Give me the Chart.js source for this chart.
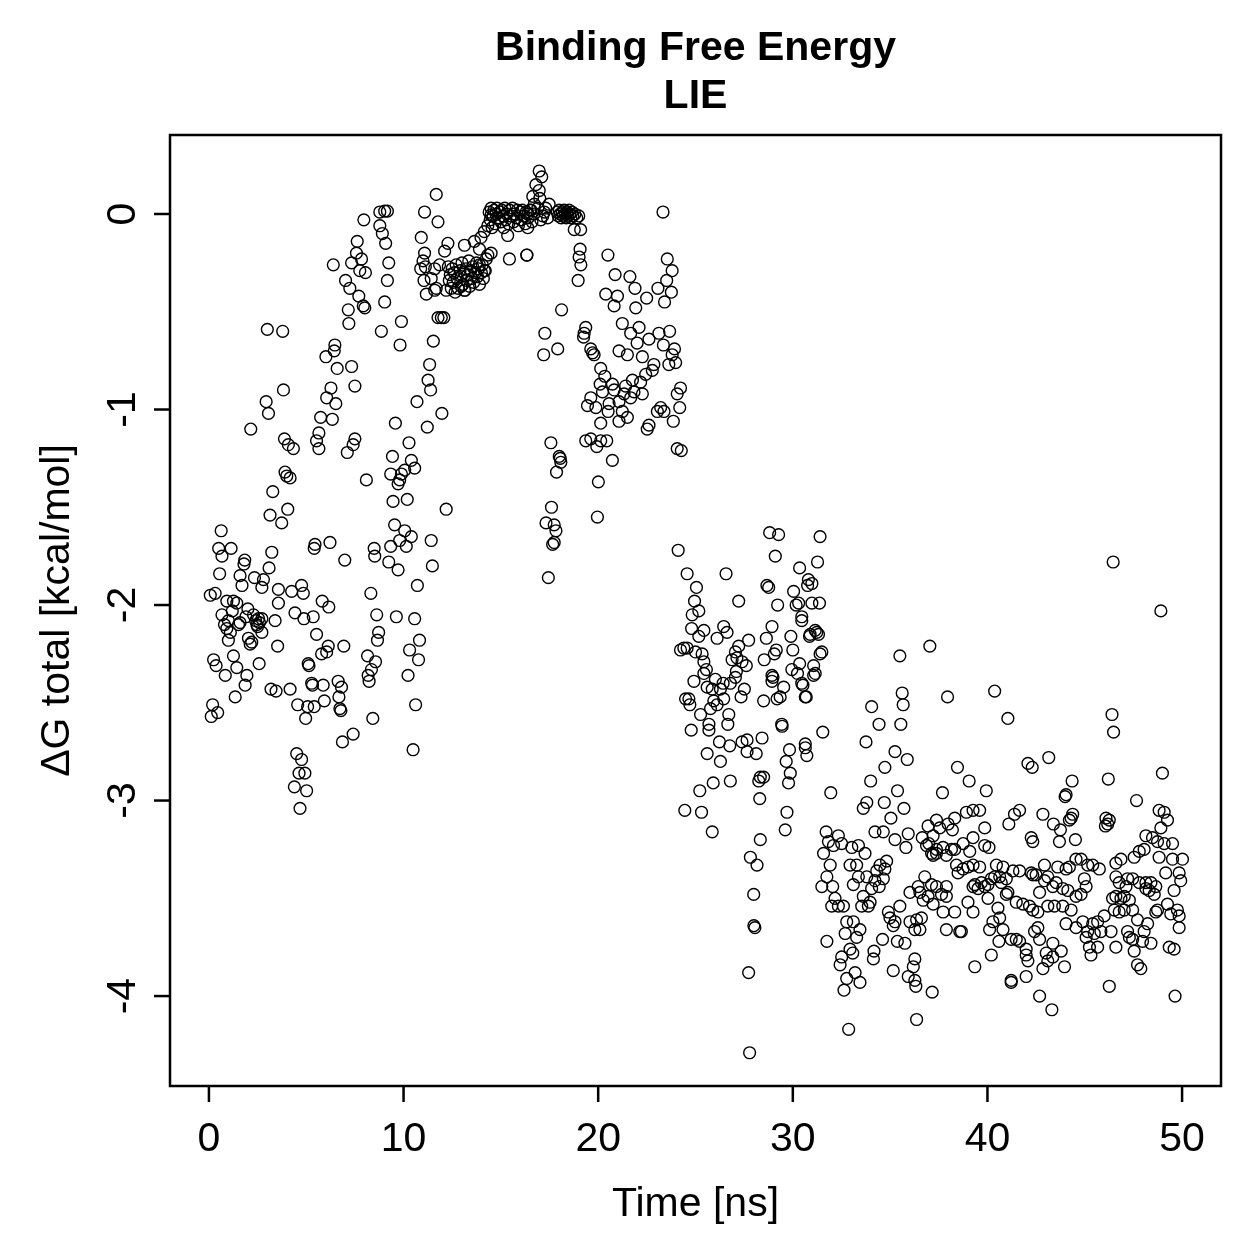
<!DOCTYPE html>
<html>
<head>
<meta charset="utf-8">
<title>Binding Free Energy - LIE</title>
<script src="https://cdn.jsdelivr.net/npm/chart.js@4.4.1/dist/chart.umd.min.js"></script>
<style>
  html, body { margin: 0; padding: 0; background: #fff; }
  #wrap { width: 1259px; height: 1259px; }
</style>
</head>
<body>
<div id="wrap"><canvas id="lieChart" width="1259" height="1259"></canvas></div>
<script>
// tick labels
const xTicks = [0, 10, 20, 30, 40, 50];
const yTicks = [0, -1, -2, -3, -4];

// [time ns, dG kcal/mol], grouped by time window
const seg0to6 = [
  [0.63,-1.62],[0.50,-1.71],[1.14,-1.71],[0.67,-1.75],[0.55,-1.84],[1.84,-1.77],[1.80,-1.79],[3.23,-1.73],
  [3.09,-1.81],[1.60,-1.85],[1.70,-1.90],[2.34,-1.86],[2.80,-1.87],[2.72,-1.91],[0.07,-1.95],[0.32,-1.94],
  [0.92,-1.98],[1.26,-1.98],[1.43,-1.99],[0.67,-2.05],[1.00,-2.08],[1.60,-2.09],[2.29,-2.05],[2.55,-2.07],
  [2.72,-2.07],[2.46,-2.10],[0.92,-2.12],[1.52,-2.10],[2.03,-2.17],[2.20,-2.19],[2.72,-2.14],[3.57,-1.92],
  [3.57,-1.99],[3.40,-2.08],[4.25,-1.93],[4.76,-1.90],[4.85,-1.94],[1.00,-2.18],[2.12,-2.20],[3.53,-2.21],
  [1.26,-2.26],[0.24,-2.28],[0.37,-2.31],[1.43,-2.32],[0.84,-2.36],[1.95,-2.36],[1.86,-2.41],[2.58,-2.30],
  [1.35,-2.47],[0.19,-2.51],[0.12,-2.57],[0.45,-2.55],[4.42,-2.04],[4.88,-2.07],[5.36,-2.06],[5.82,-1.98],
  [6.16,-2.01],[5.53,-2.15],[5.10,-2.30],[5.14,-2.31],[5.79,-2.25],[6.05,-2.24],[6.13,-2.21],[5.28,-2.40],
  [5.32,-2.41],[5.87,-2.41],[3.19,-2.43],[3.45,-2.44],[4.17,-2.43],[4.56,-2.51],[5.07,-2.52],[5.41,-2.52],
  [4.97,-2.58],[5.93,-2.49],[4.51,-2.76],[4.76,-2.79],[4.63,-2.86],[4.93,-2.86],[4.39,-2.93],[5.02,-2.95],
  [4.68,-3.04],[2.40,-2.08],[2.50,-2.11],[2.60,-2.09],[1.90,-2.06],[1.20,-2.03],[1.10,-2.14],[0.80,-2.10],
  [2.00,-2.02],[3.91,-1.32],[4.00,-1.34],[4.17,-1.35],[3.28,-1.42],[4.05,-1.51],[3.14,-1.54],[3.74,-1.58],
  [5.45,-1.69],[5.41,-1.71],[6.22,-1.68],[4.08,-1.18],[4.34,-1.20],[3.88,-1.15],[5.65,-1.12],[5.53,-1.16],
  [5.65,-1.20],[3.00,-0.59],[3.79,-0.60],[3.83,-0.90],[2.94,-0.96],[3.06,-1.02],[2.15,-1.10],[6.01,-0.73],
  [5.74,-1.04],[6.27,-0.89],[6.05,-0.94],[6.34,-1.05],[6.39,-0.26],[6.47,-0.67],[6.44,-0.70],[6.59,-0.79],
  [6.52,-0.97]
];

const seg6to12 = [
  [6.64,-2.39],[6.81,-2.42],[6.68,-2.47],[6.73,-2.53],[6.78,-2.54],[6.93,-2.21],[7.41,-2.66],[6.86,-2.70],
  [6.98,-1.77],[7.50,-1.15],[7.41,-1.18],[7.11,-1.22],[8.09,-1.36],[9.43,-1.24],[10.40,-1.26],[10.57,-1.30],
  [10.06,-1.31],[9.89,-1.33],[9.80,-1.36],[9.72,-1.38],[9.34,-1.33],[9.46,-1.47],[10.19,-1.46],[10.28,-1.17],
  [12.19,-1.51],[9.54,-1.59],[10.06,-1.62],[10.40,-1.65],[9.80,-1.67],[10.14,-1.70],[9.34,-1.70],[11.42,-1.67],
  [11.48,-1.80],[8.49,-1.71],[8.52,-1.75],[9.24,-1.78],[9.72,-1.82],[10.71,-1.90],[8.32,-1.94],[8.62,-2.05],
  [9.63,-2.06],[10.57,-2.07],[8.72,-2.14],[8.66,-2.18],[10.82,-2.18],[10.31,-2.23],[10.77,-2.28],[8.15,-2.26],
  [8.56,-2.29],[8.35,-2.33],[8.18,-2.36],[8.23,-2.39],[10.23,-2.36],[10.62,-2.51],[8.42,-2.58],[10.49,-2.74],
  [7.62,-0.14],[7.58,-0.20],[7.84,-0.23],[7.33,-0.25],[7.75,-0.29],[8.04,-0.30],[9.24,-0.25],[9.17,-0.34],
  [9.03,-0.45],[7.02,-0.34],[7.24,-0.38],[7.70,-0.42],[7.93,-0.47],[8.01,-0.48],[7.16,-0.49],[7.19,-0.56],
  [7.96,-0.03],[9.03,0.015],[8.78,0.01],[9.17,0.015],[11.08,0.01],[11.77,-0.04],[8.78,-0.06],[8.91,-0.10],
  [9.08,-0.15],[10.91,-0.12],[11.08,-0.20],[11.00,-0.24],[10.88,-0.28],[11.12,-0.27],[11.05,-0.34],[11.17,-0.41],
  [11.60,-0.39],[9.89,-0.55],[8.86,-0.60],[9.82,-0.67],[11.77,-0.53],[11.94,-0.53],[12.07,-0.53],[11.53,-0.65],
  [7.33,-0.78],[7.50,-0.88],[11.34,-0.77],[11.26,-0.85],[11.39,-0.90],[10.69,-0.96],[11.97,-1.02],[11.22,-1.09],
  [9.58,-1.07],[11.68,0.10],[12.28,-0.15],[12.11,-0.19],[11.85,-0.26],[11.60,-0.28],[11.42,-0.33],[11.68,-0.38],
  [12.19,-0.39]
];

const seg12to19 = [
  [12.30,-0.27],[12.40,-0.31],[12.50,-0.28],[12.55,-0.35],[12.60,-0.30],[12.70,-0.26],[12.75,-0.33],[12.80,-0.38],
  [12.90,-0.29],[12.95,-0.32],[13.00,-0.25],[13.05,-0.36],[13.10,-0.30],[13.20,-0.28],[13.25,-0.34],[13.30,-0.31],
  [13.35,-0.24],[13.40,-0.37],[13.45,-0.29],[13.50,-0.33],[13.55,-0.27],[13.60,-0.35],[13.70,-0.30],[13.75,-0.25],
  [13.80,-0.32],[13.85,-0.28],[13.90,-0.36],[14.00,-0.30],[14.05,-0.26],[14.10,-0.33],[14.20,-0.29],[14.25,-0.23],
  [12.45,-0.38],[12.65,-0.40],[13.15,-0.39],[12.35,-0.34],[12.96,-0.37],[13.13,-0.39],
  [13.13,-0.16],[13.64,-0.14],[13.98,-0.12],[14.15,-0.09],[14.33,-0.06],[14.50,-0.005],[13.90,-0.18],[14.33,-0.21],
  [14.50,-0.20],[13.90,-0.26],[14.15,-0.29],[15.44,-0.23],[16.34,-0.21],[15.35,-0.11],[16.38,-0.07],
  [14.40,0.01],[14.45,-0.03],[14.50,0.03],[14.60,-0.01],[14.65,0.02],[14.70,-0.05],[14.75,0.00],[14.80,0.03],
  [14.90,-0.02],[14.95,0.01],[15.00,-0.04],[15.05,0.02],[15.10,-0.01],[15.20,0.03],[15.25,-0.03],[15.30,0.00],
  [15.40,-0.05],[15.45,0.02],[15.50,-0.01],[15.60,0.03],[15.65,-0.04],[15.70,0.00],[15.80,-0.02],[15.85,0.02],
  [15.90,-0.06],[16.00,0.01],[16.05,-0.03],[16.10,0.02],[16.20,-0.01],[16.25,-0.05],[16.30,0.01],[16.40,-0.02],
  [16.50,0.02],[16.60,-0.04],[16.70,0.00],[14.55,-0.07],[15.15,-0.07],
  [16.97,0.22],[17.10,0.19],[16.80,0.15],[16.97,0.12],[16.64,0.09],[16.72,0.05],[16.55,0.02],[16.38,0.00],
  [17.48,0.05],[17.23,0.01],[17.15,-0.01],[17.00,0.08],[17.30,0.03],[16.90,0.03],[17.05,-0.03],[17.40,-0.02],
  [17.90,0.01],[17.95,-0.01],[18.00,0.02],[18.05,0.00],[18.10,-0.02],[18.15,0.01],[18.20,-0.01],[18.25,0.02],
  [18.30,0.00],[18.35,-0.02],[18.40,0.01],[18.45,-0.01],[18.50,0.02],[18.55,0.00],[18.60,-0.02],[18.65,0.01],
  [18.70,-0.01],[18.80,0.00],[18.90,-0.02],[19.00,-0.01],
  [16.33,-0.21],[19.07,-0.18],[19.02,-0.22],[19.11,-0.26],[18.97,-0.34],[18.77,-0.08],[19.10,-0.08],[18.12,-0.49],
  [17.26,-0.61],[17.92,-0.69],[17.20,-0.72],[17.57,-1.17],[18.00,-1.24],[18.08,-1.27],[18.05,-1.25],[17.86,-1.32],
  [17.60,-1.50],[17.32,-1.58],[17.74,-1.59],[17.83,-1.62],[17.74,-1.68],[17.66,-1.69],[17.44,-1.86]
];

const seg19to25 = [
  [19.36,-0.58],[19.28,-0.61],[19.25,-0.63],[19.62,-0.69],[19.71,-0.71],[19.79,-0.72],[20.50,-0.21],[23.33,0.01],
  [23.55,-0.23],[23.80,-0.29],[23.52,-0.34],[23.07,-0.38],[23.76,-0.40],[23.41,-0.45],[20.87,-0.31],[21.63,-0.32],
  [21.89,-0.38],[22.49,-0.43],[21.93,-0.48],[20.39,-0.41],[20.99,-0.42],[20.82,-0.47],
  [21.24,-0.56],[21.67,-0.61],[22.10,-0.58],[23.12,-0.61],[23.67,-0.60],[22.61,-0.64],[23.35,-0.67],[23.92,-0.69],
  [22.00,-0.66],[21.07,-0.70],[21.50,-0.72],[22.27,-0.73],[23.80,-0.72],[23.98,-0.76],[22.86,-0.77],[23.63,-0.77],
  [20.13,-0.79],[20.34,-0.83],[20.10,-0.87],[20.73,-0.87],[20.22,-0.91],[19.62,-0.94],[19.45,-0.98],[19.88,-0.99],
  [20.56,-0.97],[20.51,-1.01],[20.82,-0.90],[21.33,-0.92],[21.07,-0.96],[21.67,-0.94],[21.84,-0.91],[22.27,-0.92],
  [22.18,-0.86],[21.76,-0.85],[22.44,-0.82],[22.78,-0.80],[21.41,-0.88],[20.13,-1.07],[21.07,-1.06],[21.50,-1.04],
  [21.24,-1.01],[24.23,-0.89],[24.06,-0.92],[24.19,-0.99],[23.21,-0.99],[23.38,-1.01],[23.04,-1.01],[23.86,-1.06],
  [22.61,-1.08],[22.52,-1.10],[19.36,-1.16],[19.62,-1.15],[19.93,-1.19],[20.13,-1.16],[20.44,-1.16],[20.73,-1.26],
  [24.06,-1.20],[24.27,-1.21],[20.01,-1.37],[19.96,-1.55]
];

const seg24to32 = [
  [24.11,-1.72],[24.57,-1.84],[26.57,-1.84],[28.81,-1.63],[29.27,-1.64],[31.40,-1.65],[29.10,-1.75],[31.27,-1.78],
  [30.35,-1.81],[28.67,-1.90],[28.76,-1.91],[25.05,-1.91],[24.95,-1.98],[25.17,-2.03],[24.83,-2.05],[24.80,-2.12],
  [25.43,-2.13],[25.17,-2.16],[27.22,-1.98],[29.22,-2.00],[30.04,-1.93],[30.30,-1.99],[30.17,-2.00],[30.80,-1.87],
  [30.76,-1.90],[30.98,-1.89],[30.98,-1.99],[31.37,-1.99],[30.46,-2.06],[30.46,-2.08],[31.15,-2.13],[31.32,-2.15],
  [30.86,-2.16],[29.90,-2.16],[30.00,-2.23],[28.93,-2.11],[28.64,-2.17],[29.15,-2.23],[29.05,-2.25],[28.53,-2.28],
  [26.45,-2.11],[26.62,-2.14],[26.11,-2.17],[27.73,-2.18],[27.22,-2.21],[27.05,-2.24],[24.23,-2.23],[24.40,-2.22],
  [24.57,-2.22],[25.00,-2.24],[25.34,-2.25],[25.43,-2.29],[25.56,-2.33],[25.43,-2.35],[26.88,-2.28],[27.13,-2.27],
  [27.39,-2.29],[27.61,-2.31],[27.10,-2.34],[24.92,-2.39],[26.02,-2.38],[26.42,-2.40],[26.79,-2.40],[27.05,-2.37],
  [27.51,-2.43],[25.60,-2.42],[25.86,-2.43],[26.28,-2.43],[26.45,-2.48],[25.94,-2.49],[26.11,-2.51],[24.49,-2.48],
  [24.66,-2.48],[24.71,-2.51],[25.26,-2.56],[25.77,-2.53],[27.34,-2.47],[28.50,-2.49],[29.19,-2.48],[29.35,-2.47],
  [29.53,-2.42],[28.93,-2.36],[28.98,-2.37],[28.93,-2.39],[29.95,-2.33],[30.24,-2.35],[30.35,-2.30],[31.07,-2.31],
  [31.07,-2.36],[30.52,-2.41],[30.64,-2.47],[30.69,-2.47],[31.49,-2.24],[31.23,-2.14],[26.71,-2.56],[26.66,-2.61],
  [25.69,-2.61],[25.69,-2.64],[24.78,-2.64],[26.23,-2.70],[26.76,-2.72],[25.60,-2.76],[26.28,-2.80],[27.39,-2.70],
  [27.65,-2.69],[28.42,-2.68],[28.12,-2.76],[27.65,-2.75],[29.43,-2.61],[29.45,-2.62],[31.54,-2.65],[29.83,-2.74],
  [30.64,-2.71],[30.72,-2.77],[29.66,-2.80],[29.87,-2.86],[29.78,-2.91],[29.70,-3.06],[29.61,-3.15],[28.33,-2.88],
  [28.50,-2.88],[28.25,-2.90],[28.30,-2.99],[26.79,-2.90],[25.91,-2.91],[25.22,-2.95],[24.45,-3.05],[25.31,-3.06],
  [25.86,-3.16],[31.95,-2.96],[28.33,-3.20],[27.82,-3.29],[28.16,-3.33],[27.99,-3.48],[28.00,-3.64],[28.05,-3.65],
  [27.73,-3.88],[27.78,-4.29],[30.89,-2.15],[31.15,-2.35],[30.46,-2.40],[30.64,-2.73],[31.40,-2.25]
];

const seg31to41 = [
  [37.04,-2.21],[35.50,-2.26],[35.62,-2.45],[35.67,-2.51],[35.55,-2.61],[34.05,-2.52],[34.43,-2.61],[33.76,-2.70],
  [35.25,-2.75],[35.88,-2.79],[37.95,-2.47],[40.37,-2.44],[41.05,-2.58],
  [34.73,-2.83],[34.00,-2.90],[35.38,-2.95],[33.80,-3.01],[33.62,-3.04],[34.70,-3.01],[35.71,-3.04],[35.04,-3.09],
  [38.46,-2.83],[39.06,-2.90],[39.94,-2.95],[37.69,-2.96],[38.92,-3.06],[39.26,-3.05],[39.60,-3.05],[38.32,-3.09],
  [37.38,-3.10],[36.95,-3.13],[37.55,-3.14],[38.20,-3.15],[39.86,-3.14],[39.26,-3.19],[40.08,-3.24],[39.86,-3.23],
  [34.22,-3.16],[34.65,-3.16],[35.25,-3.20],[35.93,-3.17],[35.81,-3.24],[36.65,-3.19],[36.99,-3.22],[37.38,-3.25],
  [37.72,-3.24],[38.15,-3.25],[38.32,-3.25],[38.75,-3.22],[39.09,-3.26],
  [31.71,-3.16],[31.83,-3.21],[32.34,-3.18],[32.09,-3.23],[31.58,-3.27],[31.92,-3.33],[31.75,-3.39],[31.49,-3.44],
  [32.05,-3.44],[32.17,-3.50],[32.00,-3.54],[32.34,-3.54],[32.60,-3.54],[32.51,-3.22],[33.03,-3.24],[33.37,-3.23],
  [33.71,-3.27],[33.28,-3.33],[32.94,-3.33],[33.37,-3.39],[33.11,-3.43],[33.80,-3.39],[34.48,-3.33],[34.82,-3.31],
  [34.73,-3.35],[34.31,-3.36],[34.22,-3.41],[34.44,-3.44],[34.65,-3.40],[34.05,-3.45],[33.62,-3.49],[33.97,-3.52],
  [33.88,-3.54],[33.54,-3.54],
  [32.77,-3.62],[33.11,-3.62],[32.69,-3.68],[33.45,-3.66],[33.28,-3.70],[31.75,-3.72],[32.94,-3.76],[33.08,-3.78],
  [32.51,-3.80],[32.43,-3.84],[33.20,-3.88],[32.77,-3.91],[33.45,-3.93],[32.63,-3.97],[32.87,-4.17],[34.61,-3.71],
  [34.17,-3.77],[34.14,-3.81],[35.16,-3.87],[35.37,-3.72],[35.76,-3.73],[36.27,-3.81],[36.19,-3.85],[35.93,-3.90],
  [36.27,-3.92],[36.32,-3.95],[37.16,-3.98],[36.36,-4.12],
  [34.91,-3.57],[34.99,-3.60],[35.25,-3.62],[35.50,-3.54],[36.02,-3.47],[35.16,-3.64],[36.02,-3.62],[36.27,-3.66],
  [36.53,-3.66],[36.36,-3.61],[36.61,-3.60],[36.70,-3.51],[36.53,-3.47],[36.44,-3.44],[36.78,-3.39],[37.13,-3.43],
  [36.95,-3.49],[37.21,-3.53],[37.72,-3.57],[38.32,-3.57],[37.89,-3.66],[38.58,-3.67],[38.66,-3.67],[39.26,-3.57],
  [39.00,-3.52],[37.89,-3.44],[37.89,-3.49],[37.64,-3.48],[37.38,-3.44],[37.38,-3.27],[37.21,-3.28],
  [37.98,-3.12],[37.21,-3.18],[36.87,-3.23],[37.13,-3.27],[37.89,-3.28],
  [38.41,-3.33],[38.49,-3.37],[38.75,-3.35],[39.00,-3.34],[39.26,-3.33],[39.60,-3.34],[39.35,-3.43],[39.69,-3.42],
  [39.86,-3.44],[40.03,-3.50],[40.20,-3.40],[40.46,-3.33],[40.80,-3.34],[40.37,-3.39],[40.71,-3.42],[40.97,-3.40],
  [40.97,-3.48],[40.54,-3.55],[40.63,-3.60],[40.80,-3.66],[40.20,-3.79],[39.35,-3.85],[40.59,-3.72],[40.11,-3.66],
  [40.28,-3.62],[39.26,-3.44],[39.52,-3.45],[40.03,-3.43],[40.63,-3.39]
];

const seg41to50 = [
  [41.22,-3.71],[41.65,-3.72],[41.48,-3.71],[41.99,-3.76],[41.99,-3.79],[42.08,-3.82],[41.99,-3.90],[41.22,-3.93],
  [41.22,-3.92],[42.68,-4.00],[43.31,-4.07],[42.68,-3.71],[42.42,-3.67],[42.59,-3.65],[43.02,-3.78],[43.36,-3.73],
  [43.79,-3.77],[42.85,-3.86],[43.10,-3.82],[43.36,-3.80],[43.96,-3.85],
  [42.33,-3.56],[42.59,-3.57],[43.10,-3.54],[43.44,-3.54],[43.87,-3.54],[44.30,-3.56],[44.04,-3.63],[44.55,-3.65],
  [44.90,-3.62],[45.15,-3.67],[45.07,-3.70],[45.41,-3.63],[45.49,-3.68],[45.66,-3.62],[45.83,-3.67],[46.00,-3.59],
  [46.35,-3.67],[45.24,-3.75],[45.66,-3.75],[45.32,-3.79],[46.26,-3.95],[46.60,-3.75],
  [41.82,-3.53],[42.16,-3.54],[41.48,-3.52],[41.05,-3.47],[41.65,-3.36],[42.25,-3.37],[42.33,-3.38],[42.93,-3.33],
  [43.61,-3.34],[44.04,-3.35],[44.21,-3.34],[44.55,-3.30],[44.81,-3.30],[45.15,-3.33],[45.41,-3.33],[45.75,-3.35],
  [44.98,-3.40],[45.07,-3.44],[44.81,-3.48],[44.55,-3.49],[44.13,-3.46],[43.87,-3.45],[43.36,-3.44],[43.53,-3.42],
  [42.68,-3.47],[42.93,-3.41],[43.10,-3.39],[42.50,-3.38],[41.31,-3.36],
  [41.10,-3.12],[41.39,-3.07],[41.65,-3.05],[42.25,-3.19],[42.33,-3.21],[42.85,-3.07],[43.39,-3.12],[43.70,-3.21],
  [43.75,-3.15],[44.52,-3.20],[44.21,-3.10],[44.30,-3.09],[44.38,-3.07],[46.09,-3.09],[46.26,-3.10],[46.18,-3.12],
  [46.06,-3.13],[48.82,-3.05],[49.08,-3.06],[49.25,-3.10],[48.91,-3.14],
  [42.08,-2.81],[42.30,-2.83],[43.15,-2.78],[44.35,-2.90],[44.04,-2.97],[43.99,-2.98],[46.21,-2.89],[47.66,-3.00],
  [48.99,-2.86],[46.40,-2.56],[46.48,-2.65],[46.46,-1.78],[48.91,-2.03],
  [46.60,-3.32],[46.86,-3.30],[46.60,-3.39],[46.77,-3.42],[47.20,-3.40],[47.46,-3.40],[47.80,-3.42],[48.14,-3.42],
  [48.40,-3.42],[48.65,-3.44],[48.57,-3.48],[47.54,-3.29],[47.80,-3.26],[48.05,-3.25],[48.14,-3.18],[48.48,-3.19],
  [48.74,-3.21],[49.08,-3.22],[49.51,-3.22],[48.82,-3.29],[49.16,-3.37],[49.85,-3.37],[50.02,-3.30],[49.51,-3.30],
  [49.93,-3.41],[49.59,-3.46],[49.25,-3.53],[49.76,-3.56],[49.85,-3.59],[49.42,-3.58],[48.65,-3.57],[48.74,-3.56],
  [48.31,-3.46],[48.14,-3.45],[47.12,-3.44],[47.03,-3.49],[46.86,-3.50],[46.60,-3.49],[47.29,-3.51],[47.03,-3.56],
  [47.46,-3.56],[47.71,-3.61],[48.23,-3.63],[48.05,-3.67],[48.40,-3.73],[47.97,-3.72],[47.29,-3.70],[47.20,-3.67],
  [47.54,-3.77],[47.71,-3.84],[47.88,-3.86],[49.34,-3.75],[49.59,-3.76],[49.85,-3.65],[49.64,-4.00],[46.43,-3.50],
  [46.52,-3.56],[46.77,-3.57],[47.46,-3.71]
];

const allPoints = [seg0to6, seg6to12, seg12to19, seg19to25, seg24to32, seg31to41, seg41to50]
  .flat()
  .map(([t, g]) => ({ x: t, y: g }));

const FONT = '"Liberation Sans", Arial, Helvetica, sans-serif';

// R-style frame, ticks and labels drawn from the chart's own scales
const baseGraphics = {
  id: 'baseGraphics',
  afterDraw(chart) {
    const { ctx, chartArea: a, scales: { x, y } } = chart;
    ctx.save();
    ctx.strokeStyle = '#000';
    ctx.fillStyle = '#000';
    ctx.lineWidth = 2.5;
    ctx.strokeRect(a.left, a.top, a.right - a.left, a.bottom - a.top);

    // x axis
    ctx.font = `41px ${FONT}`;
    ctx.textAlign = 'center';
    ctx.textBaseline = 'alphabetic';
    xTicks.forEach(v => {
      const px = x.getPixelForValue(v);
      ctx.beginPath();
      ctx.moveTo(px, a.bottom);
      ctx.lineTo(px, a.bottom + 16);
      ctx.stroke();
      ctx.fillText(String(v), px, a.bottom + 65);
    });
    ctx.fillText('Time [ns]', (a.left + a.right) / 2, a.bottom + 130);

    // y axis, labels turned like R's default
    yTicks.forEach(v => {
      const py = y.getPixelForValue(v);
      ctx.beginPath();
      ctx.moveTo(a.left, py);
      ctx.lineTo(a.left - 16, py);
      ctx.stroke();
      ctx.save();
      ctx.translate(a.left - 35, py);
      ctx.rotate(-Math.PI / 2);
      ctx.fillText(String(v), 0, 0);
      ctx.restore();
    });
    ctx.save();
    ctx.translate(a.left - 101, (a.top + a.bottom) / 2);
    ctx.rotate(-Math.PI / 2);
    ctx.fillText('\u0394G total [kcal/mol]', 0, 0);
    ctx.restore();

    // title
    ctx.font = `bold 41px ${FONT}`;
    ctx.fillText('Binding Free Energy', (a.left + a.right) / 2, 60);
    ctx.fillText('LIE', (a.left + a.right) / 2, 108);
    ctx.restore();
  }
};

new Chart(document.getElementById('lieChart'), {
  type: 'scatter',
  data: {
    datasets: [{
      data: allPoints,
      pointStyle: 'circle',
      pointRadius: 5.9,
      pointBorderWidth: 1.4,
      pointBackgroundColor: 'rgba(0,0,0,0)',
      pointBorderColor: '#000'
    }]
  },
  options: {
    responsive: false,
    animation: false,
    devicePixelRatio: 1,
    layout: { padding: { left: 170, right: 38, top: 135, bottom: 173 } },
    plugins: { legend: { display: false }, tooltip: { enabled: false } },
    scales: {
      x: { type: 'linear', min: -2, max: 52, display: false },
      y: { type: 'linear', min: -4.46, max: 0.404, display: false }
    }
  },
  plugins: [baseGraphics]
});
</script>
</body>
</html>
